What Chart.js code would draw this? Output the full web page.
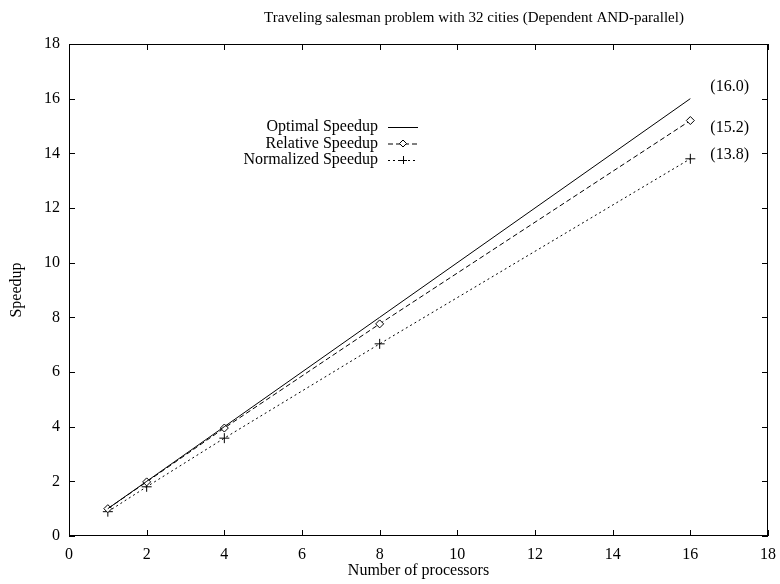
<!DOCTYPE html>
<html>
<head>
<meta charset="utf-8">
<script src="https://cdn.jsdelivr.net/npm/chart.js@4/dist/chart.umd.min.js"></script>
<style>
  html, body { margin: 0; padding: 0; background: #fff; }
  #wrap { width: 780px; height: 584px; }
</style>
</head>
<body>
<div id="wrap"><canvas id="c" width="780" height="584"></canvas></div>
<script>
// --- DATOS ---
const processors = [1, 2, 4, 8, 16];
const optimalSpeedup = [1, 2, 4, 8, 16];
const relativeSpeedup = [1.0, 1.98, 3.95, 7.76, 15.2];
const normalizedSpeedup = [0.89, 1.8, 3.58, 7.03, 13.8];
const endLabels = ['(16.0)', '(15.2)', '(13.8)'];
const seriesNames = ['Optimal Speedup', 'Relative Speedup', 'Normalized Speedup'];
const xTicks = [0, 2, 4, 6, 8, 10, 12, 14, 16, 18];
const yTicks = [0, 2, 4, 6, 8, 10, 12, 14, 16, 18];
const title = 'Traveling salesman problem with 32 cities (Dependent AND-parallel)';

const FONT = '"Liberation Serif", "Times New Roman", serif';
const toPts = ys => processors.map((x, i) => ({ x: x, y: ys[i] }));

// marco, ticks hacia dentro, leyenda, título y etiquetas finales
const gnuplotLook = {
    id: 'gnuplotLook',
    afterDatasetsDraw(chart) {
        const { ctx, chartArea: a, scales: { x, y } } = chart;
        ctx.save();
        ctx.strokeStyle = '#000';
        ctx.lineWidth = 1;
        ctx.setLineDash([]);
        ctx.strokeRect(a.left + 0.5, a.top + 0.5, a.right - a.left - 1, a.bottom - a.top - 1);
        ctx.beginPath();
        xTicks.forEach(v => {
            const px = Math.round(x.getPixelForValue(v)) + 0.5;
            ctx.moveTo(px, a.bottom); ctx.lineTo(px, a.bottom - 6);
            ctx.moveTo(px, a.top); ctx.lineTo(px, a.top + 6);
        });
        yTicks.forEach(v => {
            const py = Math.round(y.getPixelForValue(v)) + 0.5;
            ctx.moveTo(a.left, py); ctx.lineTo(a.left + 6, py);
            ctx.moveTo(a.right, py); ctx.lineTo(a.right - 6, py);
        });
        ctx.stroke();

        ctx.fillStyle = '#000';
        ctx.textBaseline = 'middle';

        // título
        ctx.font = '15px ' + FONT;
        ctx.textAlign = 'center';
        ctx.fillText(title, 474, 18);

        // leyenda
        ctx.font = '16px ' + FONT;
        ctx.textAlign = 'right';
        seriesNames.forEach((name, i) => {
            const ly = 127 + i * 16.5;
            ctx.fillText(name, 378, ly);
            const ds = chart.data.datasets[i];
            ctx.beginPath();
            ctx.setLineDash(ds.borderDash || []);
            ctx.moveTo(388, ly + 0.5); ctx.lineTo(418, ly + 0.5);
            ctx.stroke();
            ctx.setLineDash([]);
            if (ds.pointRadius > 0) {
                const cx = 403;
                ctx.beginPath();
                if (ds.pointStyle === 'rectRot') {
                    ctx.fillStyle = '#fff';
                    ctx.moveTo(cx, ly - 3.5); ctx.lineTo(cx + 3.5, ly); ctx.lineTo(cx, ly + 3.5); ctx.lineTo(cx - 3.5, ly); ctx.closePath();
                    ctx.fill(); ctx.stroke();
                    ctx.fillStyle = '#000';
                } else {
                    ctx.moveTo(cx - 4, ly + 0.5); ctx.lineTo(cx + 4, ly + 0.5);
                    ctx.moveTo(cx + 0.5, ly - 4); ctx.lineTo(cx + 0.5, ly + 4);
                    ctx.stroke();
                }
            }
        });

        // etiquetas finales
        ctx.textAlign = 'left';
        const lastX = x.getPixelForValue(processors[processors.length - 1]) + 20;
        const finals = [optimalSpeedup, relativeSpeedup, normalizedSpeedup].map(s => s[s.length - 1]);
        const offsets = [-12, 7, -4];
        finals.forEach((v, i) => {
            ctx.fillText(endLabels[i], lastX, y.getPixelForValue(v) + offsets[i]);
        });
        ctx.restore();
    }
};

const tickFont = { family: FONT, size: 16 };

new Chart(document.getElementById('c'), {
    type: 'scatter',
    data: {
        datasets: [
            {
                label: seriesNames[0],
                data: toPts(optimalSpeedup),
                showLine: true,
                borderColor: '#000',
                borderWidth: 1,
                pointRadius: 0
            },
            {
                label: seriesNames[1],
                data: toPts(relativeSpeedup),
                showLine: true,
                borderColor: '#000',
                borderWidth: 1,
                borderDash: [5, 3],
                pointStyle: 'rectRot',
                pointRadius: 4,
                pointBackgroundColor: '#fff',
                pointBorderColor: '#000',
                pointBorderWidth: 1
            },
            {
                label: seriesNames[2],
                data: toPts(normalizedSpeedup),
                showLine: true,
                borderColor: '#000',
                borderWidth: 1,
                borderDash: [2, 3],
                pointStyle: 'cross',
                pointRadius: 5,
                pointBorderColor: '#000',
                pointBorderWidth: 1
            }
        ]
    },
    options: {
        responsive: false,
        animation: false,
        layout: { padding: { top: 44, right: 12, left: 0, bottom: 0 } },
        plugins: { legend: { display: false }, tooltip: { enabled: false } },
        scales: {
            x: {
                type: 'linear',
                min: 0, max: 18,
                afterBuildTicks: s => { s.ticks = xTicks.map(v => ({ value: v })); },
                afterFit: s => { s.height = 48; s.paddingLeft = 0; s.paddingRight = 0; },
                grid: { display: false, drawTicks: false },
                border: { display: false },
                ticks: { color: '#000', font: tickFont, padding: 9, maxRotation: 0 },
                title: { display: true, text: 'Number of processors', color: '#000', font: tickFont, padding: { top: 0, bottom: 4 } }
            },
            y: {
                type: 'linear',
                min: 0, max: 18,
                afterBuildTicks: s => { s.ticks = yTicks.map(v => ({ value: v })); },
                afterFit: s => { s.width = 69; s.paddingTop = 0; s.paddingBottom = 0; },
                grid: { display: false, drawTicks: false },
                border: { display: false },
                ticks: { color: '#000', font: tickFont, padding: 9 },
                title: { display: true, text: 'Speedup', color: '#000', font: tickFont, padding: { top: 7, bottom: 0 } }
            }
        }
    },
    plugins: [gnuplotLook]
});
</script>
</body>
</html>
